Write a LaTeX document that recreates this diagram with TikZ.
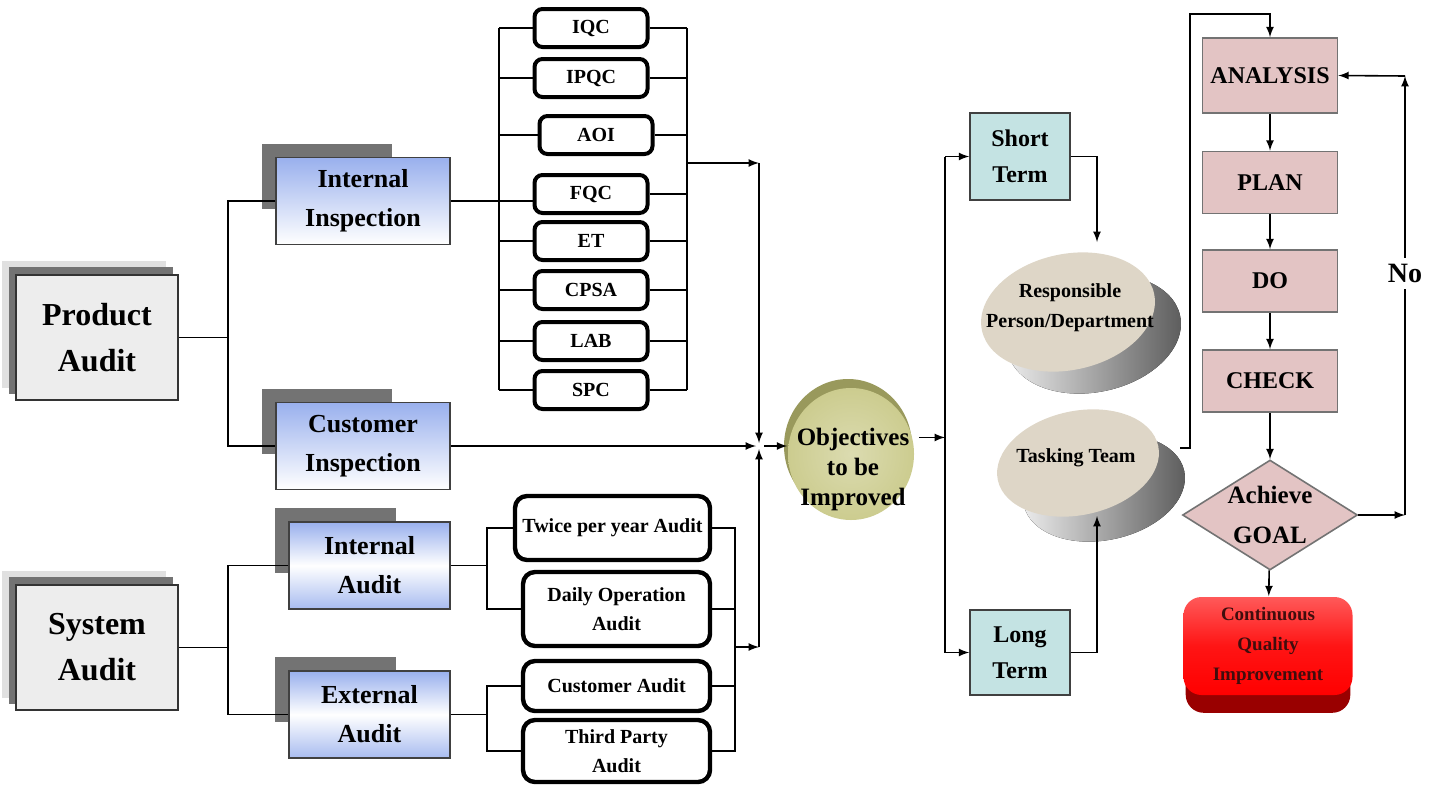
\documentclass[tikz,border=0pt]{standalone}
\usepackage{fontspec}
\setmainfont{Liberation Serif}
\usetikzlibrary{positioning,calc,shapes.geometric,backgrounds}
\definecolor{blueTop}{rgb}{0.60,0.69,0.93}
\definecolor{pinkBox}{rgb}{0.89,0.77,0.77}
\definecolor{cyanBox}{rgb}{0.77,0.89,0.89}
\definecolor{oliveFace}{rgb}{0.80,0.80,0.56}
\definecolor{oliveRim}{rgb}{0.60,0.60,0.36}
\definecolor{stoneFace}{rgb}{0.87,0.84,0.78}
\definecolor{redBand}{rgb}{0.60,0.0,0.0}
\definecolor{darkText}{rgb}{0.25,0.05,0.05}

\tikzset{
  auditbox/.style={draw=black!80, line width=0.8pt, fill=black!7, minimum width=81pt, minimum height=62.5pt, align=center, font=\bfseries\fontsize{16}{23}\selectfont},
  bluebox/.style={draw=black!75, line width=0.8pt, top color=blueTop, bottom color=white, minimum width=87pt, minimum height=43.5pt, align=center, font=\bfseries\fontsize{13}{19.5}\selectfont},
  inspbox/.style={draw=black, line width=2pt, rounded corners=4pt, fill=white, minimum width=56.5pt, minimum height=19pt, inner sep=1pt, font=\bfseries\fontsize{10}{12}\selectfont},
  subbox/.style={draw=black, line width=2.2pt, rounded corners=6pt, fill=white, minimum width=93.5pt, inner sep=1pt, align=center, font=\bfseries\fontsize{10}{14.5}\selectfont},
  termbox/.style={draw=black!75, line width=0.8pt, fill=cyanBox, minimum width=50pt, minimum height=43.5pt, align=center, font=\bfseries\fontsize{12}{18}\selectfont},
  pdcabox/.style={draw=black!55, line width=0.8pt, fill=pinkBox, minimum width=67.5pt, minimum height=31pt, font=\bfseries\fontsize{12}{14}\selectfont},
  goalbox/.style={diamond, draw=black!55, line width=0.8pt, fill=pinkBox, aspect=1.6, minimum width=87.5pt, minimum height=55pt, inner sep=-4pt, align=center, font=\bfseries\fontsize{12.5}{20}\selectfont},
  cqibox/.style={rounded corners=9pt, top color=red!65!white, bottom color=red, middle color=red!92!white, minimum width=84.5pt, minimum height=49pt, align=center, text=darkText, font=\bfseries\fontsize{9.5}{15}\selectfont},
  disktext/.style={align=center, font=\bfseries\fontsize{10}{15}\selectfont}
}

\begin{document}
\begin{tikzpicture}[x=0.5pt, y=-0.5pt, line width=0.8pt]
    \useasboundingbox (0,0) rectangle (1433,787);

    % left column
    \node[auditbox] (pa) at (97,337.5) {Product\\Audit};
    \node[auditbox] (sa) at (97,647.5) {System\\Audit};

    \node[bluebox] (ii) at (363,201) {Internal\\Inspection};
    \node[bluebox] (ci) at (363,446) {Customer\\Inspection};
    \node[bluebox, minimum width=80.5pt, top color=blueTop, bottom color=blueTop!85!white, middle color=white] (ia) at (369.5,565.5) {Internal\\Audit};
    \node[bluebox, minimum width=80.5pt, top color=blueTop, bottom color=blueTop!85!white, middle color=white] (ea) at (369.5,714.5) {External\\Audit};

    % inspection items
    \foreach \n/\t/\xx/\yy in {iqc/IQC/591/28, ipqc/IPQC/591/78, aoi/AOI/596/135, fqc/FQC/591/194,
                              et/ET/591/241, cpsa/CPSA/591/290, lab/LAB/591/341, spc/SPC/591/390}
        \node[inspbox] (\n) at (\xx,\yy) {\t};

    % audit items
    \node[subbox, minimum width=97.5pt, minimum height=32pt] (twice) at (612.5,528) {Twice per year Audit};
    \node[subbox, minimum height=37pt] (daily) at (616.5,609) {Daily Operation\\Audit};
    \node[subbox, minimum height=25pt] (cusa) at (616.5,686) {Customer Audit};
    \node[subbox, minimum height=31pt] (third) at (616.5,751) {Third Party\\Audit};

    \begin{scope}[on background layer]
        \foreach \n in {pa,sa}{
            \fill[black!12] ($(\n.north west)+(-13,-13)$) rectangle ($(\n.south east)+(-13,-13)$);
            \fill[black!55] ($(\n.north west)+(-6,-7)$) rectangle ($(\n.south east)+(-6,-7)$);
        }
        \foreach \n/\w in {ii/117, ci/117, ia/108, ea/108}
            \fill[black!55] ($(\n.north west)+(-13,-13)$) rectangle ($(\n.north west)+(\w,52)$);
    \end{scope}

    % buses
    \coordinate (pbus) at (228,0);
    \coordinate (lbus) at (499,0);
    \coordinate (rbus) at (687,0);
    \coordinate (ibus) at (487,0);
    \coordinate (obus) at (735,0);

    \draw (pa.east) -- (pa.east -| pbus);
    \draw (ii.west) -| (ci.west -| pbus) -- (ci.west);
    \draw (sa.east) -- (sa.east -| pbus);
    \draw (ia.west) -| (ea.west -| pbus) -- (ea.west);

    \foreach \n in {iqc,ipqc,aoi,et,cpsa,lab,spc}
        \draw (\n.west) -- (\n.west -| lbus);
    \foreach \n in {iqc,ipqc,aoi,fqc,et,cpsa,lab,spc}
        \draw (\n.east) -- (\n.east -| rbus);
    \draw (iqc.west -| lbus) -- (spc.west -| lbus);
    \draw (iqc.east -| rbus) -- (spc.east -| rbus);
    \draw (ii.east) -- (ii.east -| fqc.west);

    \draw (ia.east) -- (ia.east -| ibus);
    \draw (ea.east) -- (ea.east -| ibus);
    \draw (twice.west) -| (daily.west -| ibus) -- (daily.west);
    \draw (cusa.west) -| (third.west -| ibus) -- (third.west);
    \draw (twice.east) -| (third.east -| obus) -- (third.east);
    \draw (daily.east) -- (daily.east -| obus);
    \draw (cusa.east) -- (cusa.east -| obus);

    % objectives
    \fill[oliveRim] (848,446) ellipse [x radius=64, y radius=67];
    \node[ellipse, inner color=oliveFace!70!white, outer color=oliveFace, minimum width=63pt, minimum height=66pt, inner sep=0pt] (obj) at (851,454) {};
    \node[font=\bfseries\fontsize{12.5}{15}\selectfont, align=center] (objtxt) at (853,469) {Objectives\\to be\\Improved};

    % junction
    \coordinate (junc) at (759,446);
    \coordinate (jtop) at (759,163);
    \coordinate (jbot) at (759,647);
    \draw[-latex] (jtop -| rbus) -- (jtop);
    \draw[-latex] (jtop) -- ($(junc)+(0,-3)$);
    \draw[-latex] (ci.east) -- ($(junc)+(-3,0)$);
    \draw[-latex] (jbot -| obus) -- (jbot);
    \draw[-latex] (jbot) -- ($(junc)+(0,3)$);
    \draw[-latex] ($(junc)+(5,0)$) -- (junc -| obj.west);

    % terms
    \node[termbox] (st) at (1020,156.5) {Short\\Term};
    \node[termbox, minimum height=42.5pt] (lt) at (1020,652.5) {Long\\Term};
    \coordinate (tbus) at (945,0);
    \draw[-latex, shorten <=3pt] (obj.15) -- (obj.15 -| tbus);
    \draw (st.west -| tbus) -- (lt.west -| tbus);
    \draw[-latex] (st.west -| tbus) -- (st.west);
    \draw[-latex] (lt.west -| tbus) -- (lt.west);

    % disks
    \fill[left color=black!6, right color=black!65, rotate around={12:(1094,334)}] (1094,334) ellipse [x radius=88, y radius=58];
    \fill[stoneFace, rotate around={12:(1068,312)}] (1068,312) ellipse [x radius=88, y radius=58];
    \node[disktext] (resp) at (1070,308) {Responsible\\Person/Department};

    \fill[left color=black!6, right color=black!65, rotate around={12:(1104,488)}] (1104,488) ellipse [x radius=82, y radius=52];
    \fill[stoneFace, rotate around={12:(1078,463)}] (1078,463) ellipse [x radius=82, y radius=52];
    \node[disktext] (task) at (1076,458) {Tasking Team};

    \coordinate (respTop) at (1097,242);
    \coordinate (taskBot) at (1097,516);
    \coordinate (taskR) at (1180,448);
    \coordinate (tturn) at (1190,14);
    \draw[-latex] (st.east) -| (respTop);
    \draw[-latex] (lt.east) -| (taskBot);

    % improvement loop
    \node[pdcabox, minimum height=37.5pt] (ana) at (1270,75.5) {ANALYSIS};
    \node[pdcabox] (plan) at (1270,182.5) {PLAN};
    \node[pdcabox] (do) at (1270,281) {DO};
    \node[pdcabox] (chk) at (1270,381) {CHECK};
    \node[goalbox] (goal) at (1270,515) {Achieve\\GOAL};
    \node[cqibox] (cqi) at (1268,646) {Continuous\\Quality\\Improvement};
    \begin{scope}[on background layer]
        \fill[redBand, rounded corners=9pt] ($(cqi.north west)+(3,30)$) rectangle ($(cqi.south east)+(-3,17)$);
    \end{scope}

    \draw[-latex] (taskR) -| (tturn) -| (ana.north);
    \draw[-latex] (ana) -- (plan);
    \draw[-latex] (plan) -- (do);
    \draw[-latex] (do) -- (chk);
    \draw[-latex] (chk) -- (goal);
    \draw[-latex] (goal) -- (cqi);

    \coordinate (noR) at (1405,515);
    \coordinate (noT) at (1405,76);
    \draw[-latex] (goal.east) -- (noR);
    \draw[-latex] (noR) -- node[pos=0.55, fill=white, inner sep=3pt, font=\bfseries\fontsize{14}{16}\selectfont] (no) {No} (noT);
    \draw[-latex] (noT) -- (ana.east);
\end{tikzpicture}
\end{document}
